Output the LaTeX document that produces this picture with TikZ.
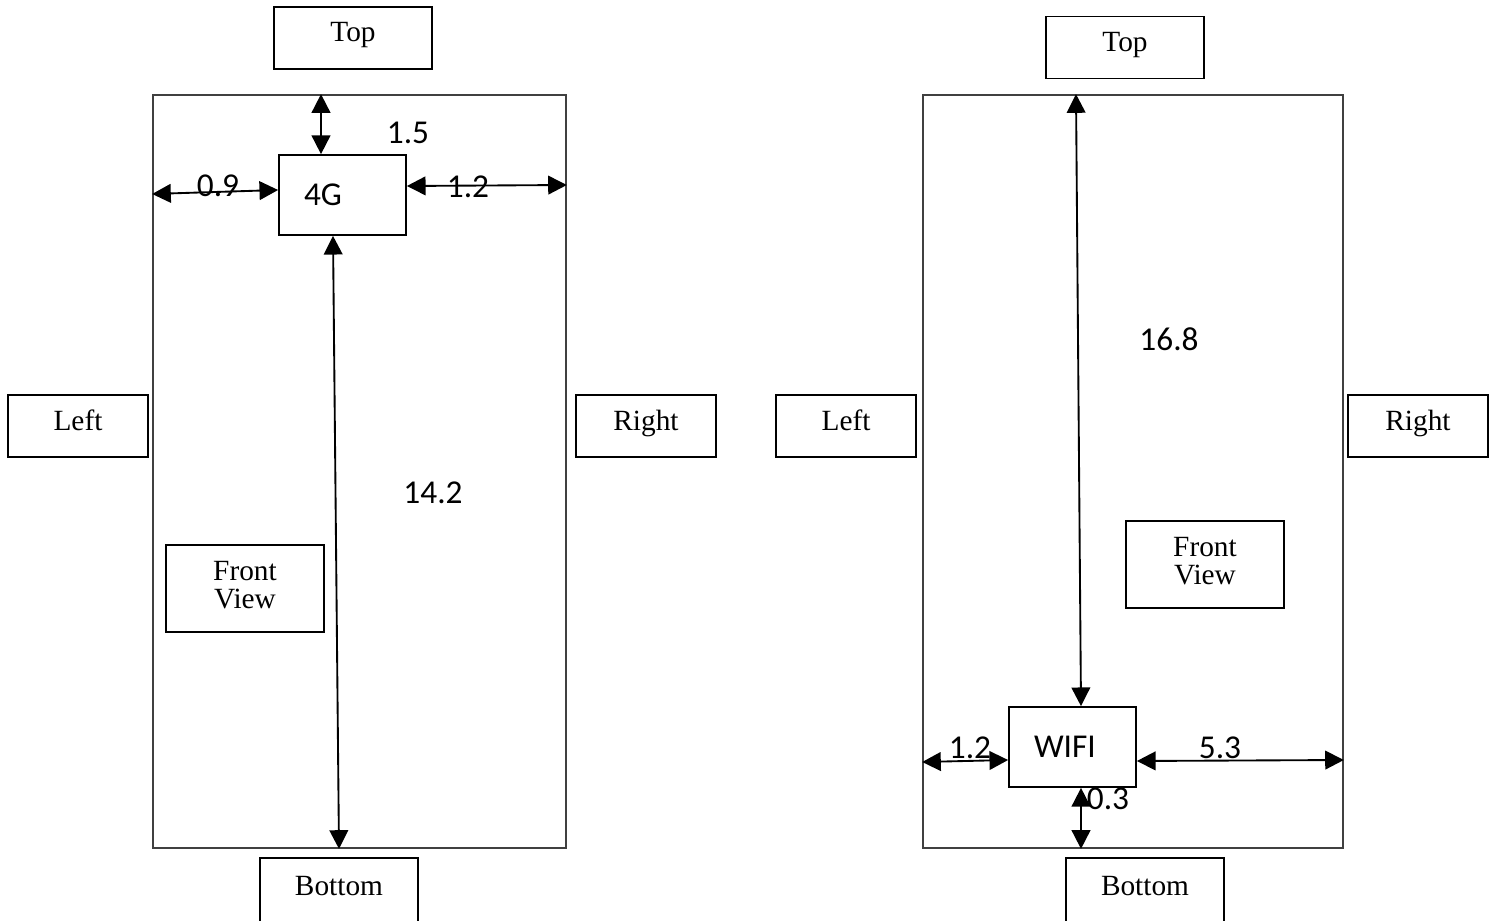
\documentclass[tikz,border=0pt]{standalone}
\usepackage{fontspec}
\setmainfont{Liberation Serif}
\newfontfamily\numfont{Carlito}
\usetikzlibrary{arrows.meta}

\tikzset{
	side/.style={draw,line width=1.3pt,minimum width=118.5pt,minimum height=46.5pt,inner sep=0pt,font=\fontsize{22}{21}\selectfont,text height=15pt,text depth=9pt},
	viewbox/.style={draw,line width=1.3pt,minimum width=118.5pt,minimum height=65.25pt,inner sep=0pt,align=center,font=\fontsize{22}{21}\selectfont},
	frame/.style={draw=black!75,line width=1.3pt,minimum height=564.75pt,inner sep=0pt},
	sensor/.style={draw,line width=1.3pt,minimum height=60pt,text width=57.75pt,inner xsep=18.75pt,inner ysep=0pt,align=left,font=\numfont\fontsize{25}{30}\selectfont},
	dim/.style={{Triangle[length=14pt,width=14pt]}-{Triangle[length=14pt,width=14pt]},line width=1.4pt},
	numlbl/.style={inner sep=0pt,font=\numfont\fontsize{25}{30}\selectfont}
}

\begin{document}
\begin{tikzpicture}[x=0.75pt,y=0.75pt,yscale=-1,xscale=1]
				\useasboundingbox (0,0) rectangle (1494,920);
				\node[side] (top1) at (353,38) {Top};
				\node[frame,minimum width=309.75pt] (frame1) at (359.5,471.5) {};
				\node[sensor] (g4) at (342.5,195) {4G};
				\node[side,minimum width=105pt] (left1) at (78,426) {Left};
				\node[side,minimum width=105pt] (right1) at (646,426) {Right};
				\node[viewbox] (front1) at (245,588.5) {Front\\View\rule[-6pt]{0pt}{0pt}};
				\node[side,minimum height=50.25pt] (bottom1) at (339,891.5) {Bottom};
				\draw[dim] (frame1.north -| 321,0) -- (g4.north -| 321,0);
				\draw[dim] (frame1.west |- 0,194) -- (g4.west |- 0,190);
				\draw[dim] (g4.east |- 0,186) -- (frame1.east |- 0,185);
				\draw[dim] (g4.south -| 333,0) -- (frame1.south -| 339,0);
				\node[numlbl] (h15) at (408,133) {1.5};
				\node[numlbl] (w09) at (218,186) {0.9};
				\node[numlbl] (w12) at (468,187) {1.2};
				\node[numlbl] (h142) at (433,493) {14.2};
				\node[side] (top2) at (1125,47.5) {Top};
				\node[frame,minimum width=315pt] (frame2) at (1133,471.5) {};
				\node[sensor] (wifi) at (1072.5,747) {WIFI};
				\node[side,minimum width=105pt] (left2) at (846,426) {Left};
				\node[side,minimum width=105pt] (right2) at (1418,426) {Right};
				\node[viewbox] (front2) at (1205,564.5) {Front\\View\rule[-6pt]{0pt}{0pt}};
				\node[side,minimum height=50.25pt] (bottom2) at (1145,891.5) {Bottom};
				\draw[dim] (frame2.north -| 1076,0) -- (wifi.north -| 1081,0);
				\draw[dim] (frame2.west |- 0,762) -- (wifi.west |- 0,760);
				\draw[dim] (wifi.east |- 0,761) -- (frame2.east |- 0,760);
				\draw[dim] (wifi.south -| 1081,0) -- (frame2.south -| 1081,0);
				\node[numlbl] (h168) at (1169,339) {16.8};
				\node[numlbl] (w12b) at (970,748) {1.2};
				\node[numlbl] (w53) at (1220,748) {5.3};
				\node[numlbl] (h03) at (1108,799) {0.3};
\end{tikzpicture}
\end{document}
